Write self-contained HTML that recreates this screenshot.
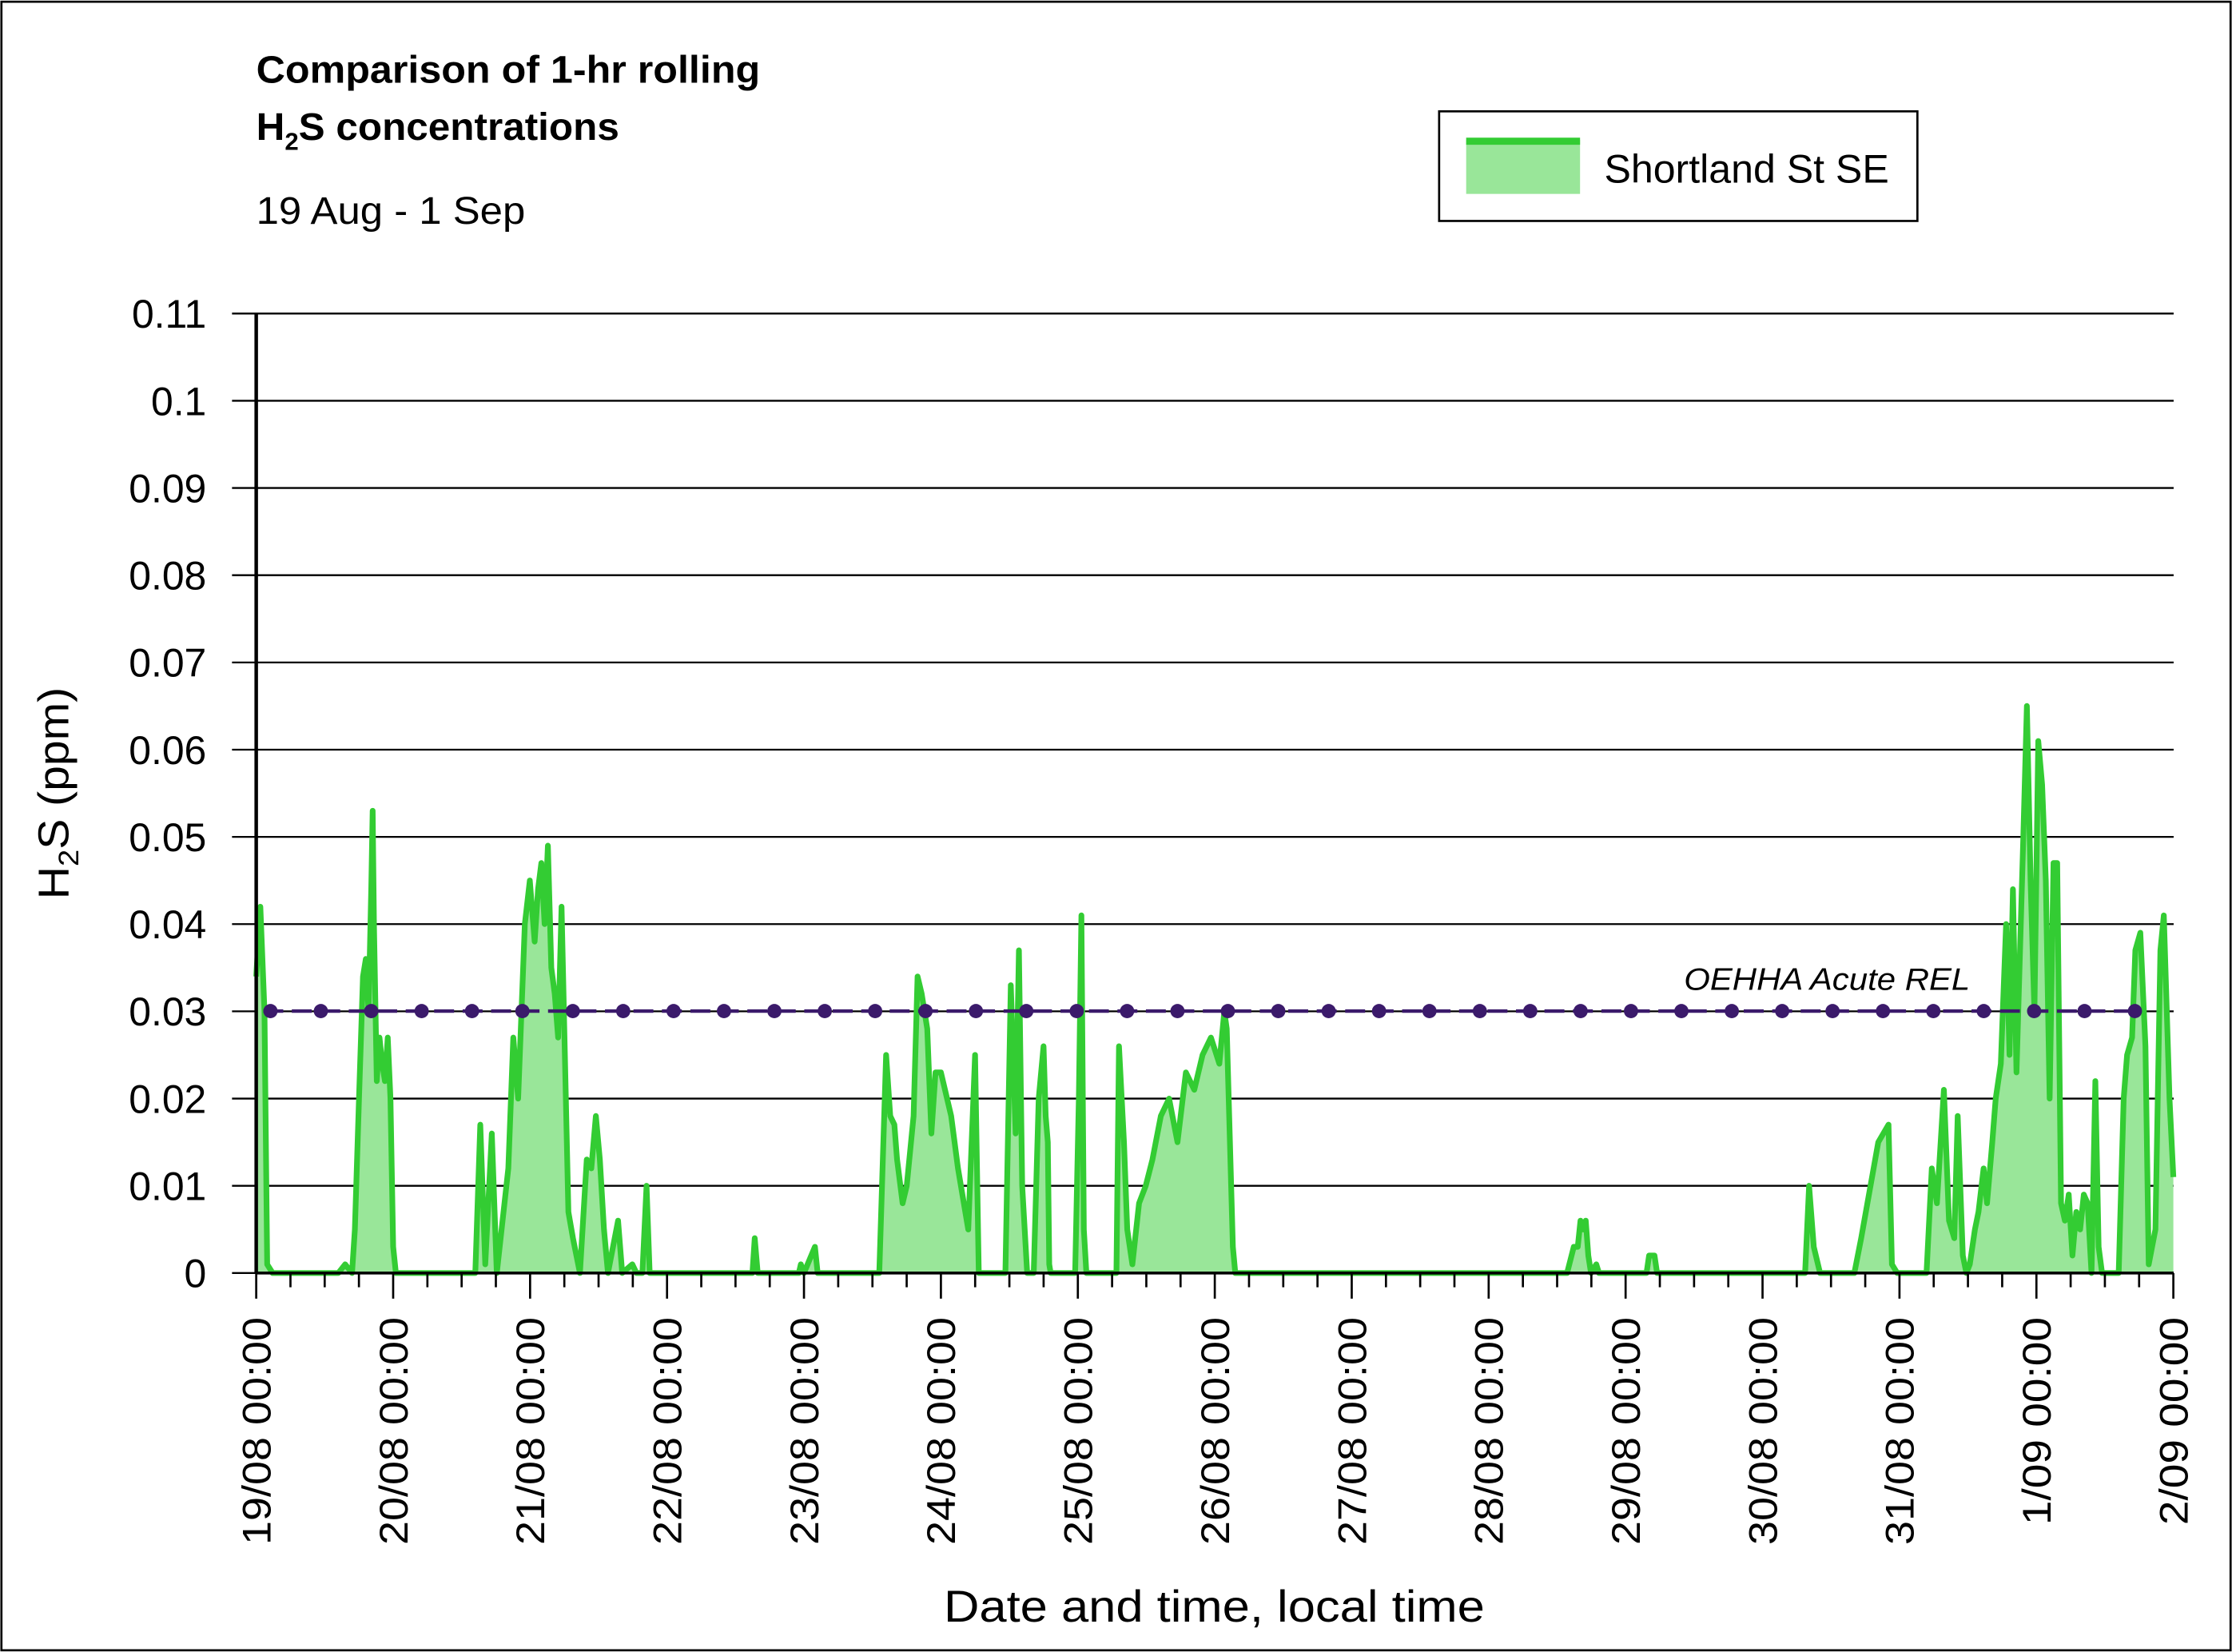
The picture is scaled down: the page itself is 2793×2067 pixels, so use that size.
<!DOCTYPE html>
<html><head><meta charset="utf-8"><style>
html,body{margin:0;padding:0;background:#fff}
svg{display:block}
text{font-family:"Liberation Sans",sans-serif;fill:#000}
</style></head><body>
<svg id="s" width="2793" height="2067" viewBox="0 0 1568 1160" xmlns="http://www.w3.org/2000/svg">
<rect x="1" y="1" width="1566" height="1158" fill="#fff" stroke="#000" stroke-width="1.5"/>
<text x="180" y="58" font-size="27" font-weight="bold" textLength="354" lengthAdjust="spacingAndGlyphs">Comparison of 1-hr rolling</text>
<text x="180" y="98" font-size="27" font-weight="bold" textLength="255" lengthAdjust="spacingAndGlyphs">H<tspan font-size="17" dy="7">2</tspan><tspan dy="-7">S concentrations</tspan></text>
<text x="180" y="157" font-size="27" textLength="189" lengthAdjust="spacingAndGlyphs">19 Aug - 1 Sep</text>
<rect x="1011" y="78" width="336" height="77" fill="#fff" stroke="#000" stroke-width="1.5"/>
<rect x="1030" y="98" width="80" height="38" fill="#99e699"/>
<line x1="1030" y1="99" x2="1110" y2="99" stroke="#33cc33" stroke-width="5"/>
<text x="1127" y="128" font-size="28" textLength="200" lengthAdjust="spacingAndGlyphs">Shortland St SE</text>
<g id="grid"></g>
<path id="area" fill="#99e699" stroke="none"/>
<path id="line" fill="none" stroke="#33cc33" stroke-width="4" stroke-linejoin="round"/>
<line x1="185" y1="710" x2="1505" y2="710" stroke="#3b1a6b" stroke-width="2.5" stroke-dasharray="14,6"/>
<g id="dots" fill="#3b1a6b"></g>
<text x="1183" y="695" font-size="22" font-style="italic" textLength="201" lengthAdjust="spacingAndGlyphs">OEHHA Acute REL</text>
<line x1="180" y1="220" x2="180" y2="894" stroke="#000" stroke-width="2.5"/>
<line x1="180" y1="894" x2="1527" y2="894" stroke="#000" stroke-width="2"/>
<g id="xt"></g>
<text transform="translate(48,557) rotate(-90)" font-size="30" text-anchor="middle" textLength="149" lengthAdjust="spacingAndGlyphs">H<tspan font-size="20" dy="7">2</tspan><tspan dy="-7">S (ppm)</tspan></text>
<text x="853" y="1139" font-size="31" text-anchor="middle" textLength="380" lengthAdjust="spacingAndGlyphs">Date and time, local time</text>
</svg>
<script>
var NS="http://www.w3.org/2000/svg";
function el(p,t,a,txt){var e=document.createElementNS(NS,t);for(var k in a)e.setAttribute(k,a[k]);if(txt!=null)e.textContent=txt;document.getElementById(p).appendChild(e);return e;}
var X0=180,DX=96.2,Y0=894,DY=6127;
function X(d){return X0+DX*d} function Y(v){return Y0-v*DY}
var labs=["0","0.01","0.02","0.03","0.04","0.05","0.06","0.07","0.08","0.09","0.1","0.11"];
for(var i=0;i<12;i++){var y=Y(i*0.01);
 if(i>0)el("grid","line",{x1:163,y1:y,x2:1527,y2:y,stroke:"#000","stroke-width":1.3});
 else el("grid","line",{x1:163,y1:y,x2:180,y2:y,stroke:"#000","stroke-width":1.3});
 el("grid","text",{x:145,y:y+10,"font-size":28,"text-anchor":"end"},labs[i]);}
var dl=["19/08","20/08","21/08","22/08","23/08","24/08","25/08","26/08","27/08","28/08","29/08","30/08","31/08","1/09","2/09"];
for(var q=0;q<=56;q++){var x=X(q/4);var major=q%4==0;
 el("xt","line",{x1:x,y1:894,x2:x,y2:major?912:904,stroke:"#000","stroke-width":1.5});
 if(major){var s=dl[q/4]+" 00:00";el("xt","text",{transform:"translate("+(x+10)+",925) rotate(-90)","font-size":28,"text-anchor":"end",textLength:(s.length==11?160:146),lengthAdjust:"spacingAndGlyphs"},s);}}
for(var j=0;j<38;j++){el("dots","circle",{cx:190+j*35.4,cy:710,r:5});}
var A=[[0,0],[1.6,1.6],[2.04,2.13],[2.12,2.23],[2.27,2.48],[2.52,2.85],[3.52,3.64],[4.0,4.0],[5.0,5.0],[5.1,5.25],[5.3,5.51],[5.5,5.75],[5.95,5.98],[6.3,6.3],[6.93,7.07],[7.02,7.15],[9.6,9.67],[11.33,11.34],[11.4,11.42],[11.6,11.92],[12.4,12.93],[12.76,13.43],[13.17,13.93],[13.22,14]];
function M(t){for(var i=1;i<A.length;i++){if(t<=A[i][0]){var a=A[i-1],b=A[i];return a[1]+(t-a[0])*(b[1]-a[1])/(b[0]-a[0]);}}return 14;}
var d=[0,0.034,0.03,0.042,0.06,0.03,0.08,0.001,0.12,0,0.6,0,0.65,0.001,0.7,0,0.72,0.005,0.75,0.02,0.78,0.034,0.8,0.036,0.82,0.03,0.84,0.044,0.85,0.053,0.86,0.04,0.88,0.022,0.9,0.027,0.92,0.024,0.94,0.022,0.96,0.027,0.98,0.02,1.0,0.003,1.02,0,1.6,0,1.63,0.017,1.66,0.001,1.7,0.016,1.73,0,1.8,0.012,1.83,0.027,1.86,0.02,1.9,0.04,1.93,0.045,1.96,0.038,1.98,0.044,2.0,0.047,2.02,0.04,2.04,0.049,2.06,0.035,2.08,0.032,2.1,0.027,2.12,0.042,2.15,0.007,2.17,0.004,2.2,0,2.23,0.013,2.25,0.012,2.27,0.018,2.29,0.013,2.31,0.005,2.33,0,2.38,0.006,2.4,0,2.45,0.001,2.47,0,2.5,0,2.52,0.01,2.55,0,3.5,0,3.52,0.004,3.55,0,3.95,0,3.97,0.001,4.0,0,4.08,0.003,4.1,0,4.55,0,4.6,0.025,4.63,0.018,4.66,0.017,4.68,0.013,4.72,0.008,4.75,0.01,4.8,0.018,4.83,0.034,4.86,0.032,4.9,0.028,4.93,0.016,4.96,0.023,5.0,0.023,5.03,0.018,5.05,0.012,5.08,0.005,5.1,0.025,5.12,0,5.27,0,5.3,0.033,5.33,0.016,5.35,0.037,5.37,0.01,5.4,0,5.44,0,5.47,0.02,5.5,0.026,5.53,0.018,5.56,0.015,5.58,0.001,5.6,0,5.95,0,5.98,0.02,6.0,0.041,6.02,0.005,6.04,0,6.28,0,6.3,0.026,6.33,0.015,6.35,0.005,6.38,0.001,6.42,0.008,6.46,0.01,6.5,0.013,6.55,0.018,6.6,0.02,6.65,0.015,6.7,0.023,6.75,0.021,6.8,0.025,6.85,0.027,6.9,0.024,6.93,0.03,6.95,0.028,7.0,0.003,7.02,0,9.5,0,9.55,0.003,9.58,0.003,9.6,0.006,9.62,0.005,9.64,0.006,9.66,0.002,9.68,0,9.72,0.001,9.74,0,10.1,0,10.12,0.002,10.16,0.002,10.18,0,11.3,0,11.33,0.01,11.36,0.003,11.4,0,11.5,0,11.52,0.004,11.57,0.015,11.6,0.017,11.62,0.001,11.65,0,11.82,0,11.85,0.012,11.88,0.008,11.92,0.021,11.95,0.006,11.98,0.004,12.0,0.018,12.03,0.002,12.05,0,12.07,0.001,12.1,0.005,12.12,0.007,12.15,0.012,12.17,0.008,12.2,0.015,12.22,0.02,12.25,0.024,12.28,0.04,12.3,0.025,12.32,0.044,12.34,0.023,12.38,0.05,12.4,0.065,12.42,0.045,12.44,0.03,12.46,0.061,12.48,0.056,12.5,0.045,12.52,0.02,12.54,0.047,12.56,0.047,12.58,0.008,12.6,0.006,12.62,0.009,12.64,0.002,12.66,0.007,12.68,0.005,12.7,0.009,12.72,0.008,12.74,0,12.76,0.022,12.78,0.003,12.8,0,12.9,0,12.93,0.02,12.95,0.025,12.98,0.027,13.0,0.037,13.03,0.039,13.06,0.026,13.08,0.001,13.12,0.005,13.15,0.037,13.17,0.041,13.2,0.02,13.22,0.011];
var pts=[];for(var k=0;k<d.length;k+=2){pts.push(X(M(d[k])).toFixed(1)+","+Y(d[k+1]).toFixed(1));}
var L="M"+pts.join(" L");
document.getElementById("line").setAttribute("d",L);
document.getElementById("area").setAttribute("d",L+" L"+X(14)+","+Y0+" L"+X0+","+Y0+" Z");
</script>
</body></html>
